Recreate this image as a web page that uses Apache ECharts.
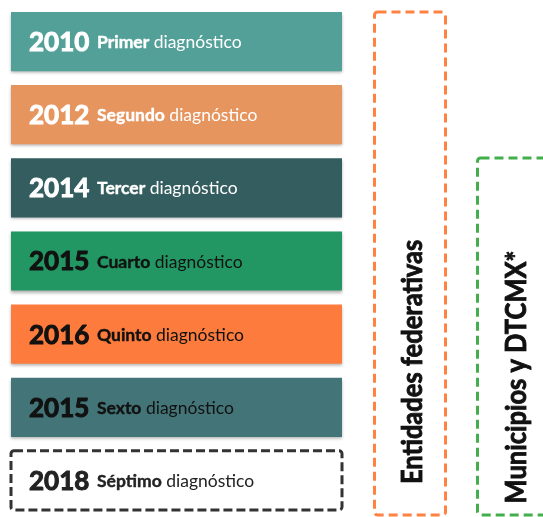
<!DOCTYPE html>
<html>
<head>
<meta charset="utf-8">
<script src="https://cdn.jsdelivr.net/npm/echarts@6/dist/echarts.min.js"></script>
<style>
html,body{margin:0;padding:0;background:#fff;}
#chart{width:543px;height:517px;}
</style>
</head>
<body>
<div id="chart"></div>
<script>
// ---- data ----
const years = ['2010', '2012', '2014', '2015', '2016', '2015', '2018'];
const ordinals = ['Primer', 'Segundo', 'Tercer', 'Cuarto', 'Quinto', 'Sexto', 'Séptimo'];
const suffixWord = 'diagnóstico';
const groupLabels = ['Entidades federativas', 'Municipios y DTCMX*'];

// ---- styles ----
const fills = ['#52a098', '#e6955f', '#335d5f', '#239763', '#fd7b3c', '#437477', null];
const textColors = ['#ffffff', '#ffffff', '#ffffff', '#111111', '#111111', '#111111', '#222222'];
const FONT = 'Lato, "Open Sans", sans-serif';

// split word so the font's "st" ligature is not applied
function noLig(word) {
  const k = word.indexOf('st');
  if (k < 0) return '{r|' + word + '}';
  return '{r|' + word.slice(0, k + 1) + '}{r|' + word.slice(k + 1) + '}';
}

const chart = echarts.init(document.getElementById('chart'));

const option = {
  animation: false,
  grid: { left: 0, top: 5, width: 543, height: 517 },
  xAxis: { type: 'value', min: 0, max: 543, show: false },
  yAxis: { type: 'category', data: ordinals, inverse: true, show: false },
  series: [{
    type: 'custom',
    data: ordinals.map((o, i) => [0, o]),
    renderItem: function (params, api) {
      const i = params.dataIndex;
      const cat = api.value(1);
      const p0 = api.coord([11, cat]);
      const p1 = api.coord([342, cat]);
      const band = api.size([0, 1])[1];
      const h = band * 0.81;
      const y0 = p0[1] - h / 2;
      const tc = textColors[i];
      const dashed = fills[i] === null;
      const rect = {
        type: 'rect',
        shape: { x: p0[0], y: y0, width: p1[0] - p0[0], height: h, r: dashed ? 3 : 0 },
        style: dashed
          ? { fill: '#ffffff', stroke: '#333333', lineWidth: 3, lineDash: [9, 4] }
          : { fill: fills[i], shadowBlur: 3, shadowOffsetY: 2, shadowColor: 'rgba(0,0,0,0.3)' }
      };
      const text = {
        type: 'text',
        style: {
          x: 29, y: p0[1] + 1,
          verticalAlign: 'middle',
          text: '{y|' + years[i] + '}{g| }{b|' + ordinals[i] + '}{r| }' + noLig(suffixWord),
          rich: {
            y: { fontFamily: FONT, fontWeight: 'bold', fontSize: 26, fill: tc, stroke: tc, lineWidth: 1 },
            g: { fontFamily: FONT, fontSize: 30, fill: tc },
            b: { fontFamily: FONT, fontWeight: 'bold', fontSize: 17.5, fill: tc, stroke: tc, lineWidth: 0.4 },
            r: { fontFamily: FONT, fontWeight: 'normal', fontSize: 17.5, fill: tc }
          }
        }
      };
      return { type: 'group', children: [rect, text] };
    }
  }],
  graphic: [
    {
      type: 'rect',
      shape: { x: 374.5, y: 12, width: 71, height: 503, r: 3 },
      style: { fill: 'none', stroke: '#ff8243', lineWidth: 3, lineDash: [9, 5] }
    },
    {
      type: 'rect',
      shape: { x: 477.5, y: 158, width: 90, height: 357, r: 3 },
      style: { fill: 'none', stroke: '#45ae4c', lineWidth: 3, lineDash: [9, 5] }
    },
    {
      type: 'text',
      x: 413, y: 362, rotation: Math.PI / 2, scaleY: 1.1,
      style: {
        text: groupLabels[0], fontFamily: FONT, fontWeight: 'bold', fontSize: 25.5,
        fill: '#111111', stroke: '#111111', lineWidth: 0.8, align: 'center', verticalAlign: 'middle'
      }
    },
    {
      type: 'text',
      x: 517, y: 377, rotation: Math.PI / 2, scaleY: 1.1,
      style: {
        text: groupLabels[1], fontFamily: FONT, fontWeight: 'bold', fontSize: 25.5,
        fill: '#111111', stroke: '#111111', lineWidth: 0.8, align: 'center', verticalAlign: 'middle'
      }
    }
  ]
};
chart.setOption(option);
</script>
</body>
</html>
